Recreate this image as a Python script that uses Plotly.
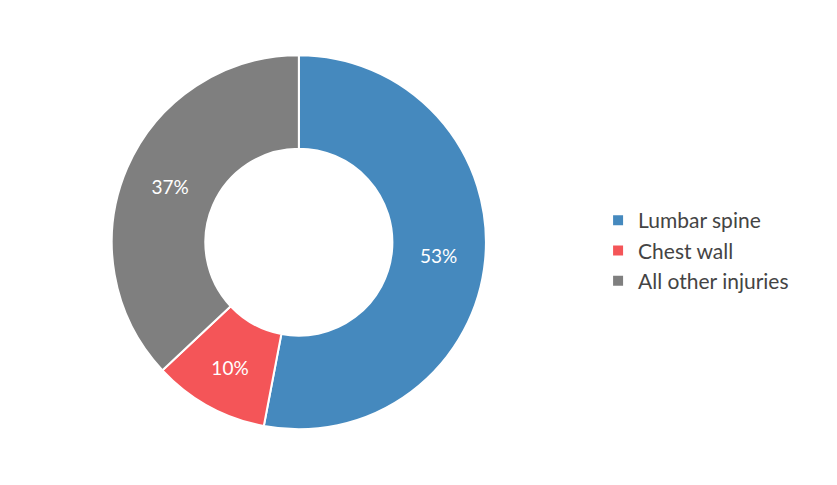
import plotly.graph_objects as go

labels = ["Lumbar spine", "Chest wall", "All other injuries"]
values = [53, 10, 37]
colors = ["#4589BE", "#F45558", "#7F7F7F"]

fig = go.Figure(go.Pie(
    labels=labels, values=values, hole=0.5, sort=False, direction="clockwise",
    rotation=0, marker=dict(colors=colors, line=dict(color="white", width=2)),
    textinfo="percent", texttemplate="%{percent:.0%}", textposition="inside",
    insidetextorientation="horizontal",
    textfont=dict(color="white", size=19, family="Lato, sans-serif"),
    domain=dict(x=[0.124, 0.571], y=[0.131, 0.903]),
))
fig.update_layout(
    width=837, height=485, margin=dict(l=0, r=0, t=0, b=0),
    paper_bgcolor="white", font=dict(family="Lato, sans-serif", color="#444"),
    legend=dict(x=0.705, y=0.5, yanchor="middle", font=dict(size=21, color="#444"),
                itemwidth=30),
)
fig.write_html("out.html")
